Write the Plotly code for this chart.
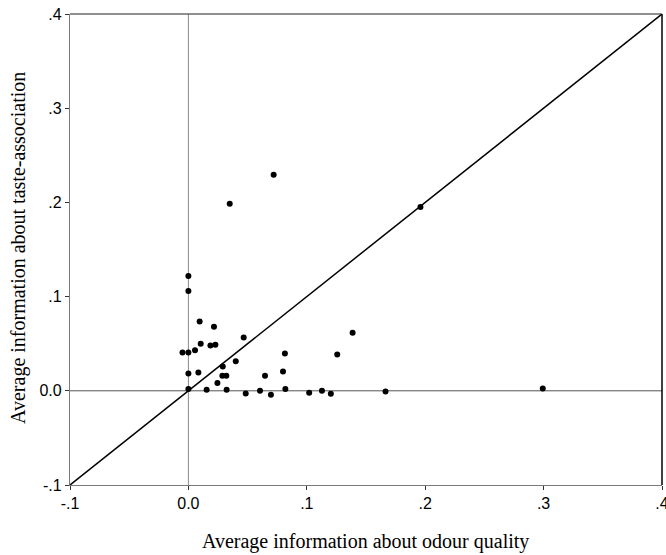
import plotly.graph_objects as go

# Average information per neuron: odour quality (x) vs taste-association (y)
odour_info = [0.000, 0.000, 0.0095, 0.0216, 0.0104, 0.0186, 0.0228, 0.0467,
              -0.005, 0.000, 0.0056, 0.040, 0.029, 0.0815, 0.000, 0.0084,
              0.0287, 0.032, 0.0647, 0.0799, 0.0245, 0.000, 0.0154, 0.0323,
              0.0484, 0.0605, 0.0697, 0.0819, 0.102, 0.1128, 0.1203, 0.1257,
              0.1387, 0.1665, 0.2993, 0.0349, 0.072, 0.196]
taste_info = [0.122, 0.106, 0.0736, 0.068, 0.050, 0.048, 0.049, 0.0566,
              0.0407, 0.0407, 0.043, 0.0315, 0.0258, 0.0396, 0.0184, 0.0194,
              0.016, 0.016, 0.016, 0.0205, 0.0082, 0.0018, 0.001, 0.001,
              -0.0028, 0.000, -0.0042, 0.0018, -0.0021, 0.000, -0.0032, 0.0385,
              0.0616, -0.0007, 0.0025, 0.1985, 0.2293, 0.195]

# Identity line endpoints and axis range
identity = [-0.1, 0.4]
axis_range = [-0.1, 0.4]
tick_vals = [-0.1, 0.0, 0.1, 0.2, 0.3, 0.4]
tick_text = ["-.1", "0.0", ".1", ".2", ".3", ".4"]

fig = go.Figure()

# zero reference lines
fig.add_trace(go.Scatter(x=[0, 0], y=axis_range, mode="lines",
                         line=dict(color="#8a8a8a", width=1), hoverinfo="skip"))
fig.add_trace(go.Scatter(x=axis_range, y=[0, 0], mode="lines",
                         line=dict(color="#555555", width=1), hoverinfo="skip"))

# y = x line
fig.add_trace(go.Scatter(x=identity, y=identity, mode="lines",
                         line=dict(color="black", width=1.5), hoverinfo="skip"))

fig.add_trace(go.Scatter(x=odour_info, y=taste_info, mode="markers",
                         marker=dict(color="black", size=6)))

axis_common = dict(
    range=axis_range, tickvals=tick_vals, ticktext=tick_text,
    showgrid=False, zeroline=False, showline=True, mirror=False,
    linecolor="#7a7a7a", linewidth=1.2, ticks="outside", ticklen=4,
    tickcolor="#333333", ticklabeloverflow="allow", automargin=False,
    tickfont=dict(family="Liberation Sans, Arial", size=16, color="black"),
)

fig.update_layout(
    width=666, height=555,
    margin=dict(l=70, r=4, t=14, b=70),
    plot_bgcolor="white", paper_bgcolor="white",
    showlegend=False,
    xaxis=dict(**axis_common),
    yaxis=dict(**axis_common),
    shapes=[
        # darker top and right frame edges
        dict(type="line", xref="paper", yref="paper", x0=0, x1=1, y0=1, y1=1,
             line=dict(color="#222222", width=1.2)),
        dict(type="line", xref="paper", yref="paper", x0=1, x1=1, y0=0, y1=1,
             line=dict(color="black", width=1.5)),
    ],
    annotations=[
        dict(text="Average information about odour quality", xref="paper", yref="paper",
             x=0.4995, y=-0.121, xanchor="center", yanchor="middle", showarrow=False,
             font=dict(family="Liberation Serif, Times New Roman", size=20, color="black")),
        dict(text="Average information about taste-association", xref="paper", yref="paper",
             x=-0.088, y=0.503, xanchor="center", yanchor="middle", showarrow=False,
             textangle=-90,
             font=dict(family="Liberation Serif, Times New Roman", size=20, color="black")),
    ],
)

fig.write_html("out.html")
